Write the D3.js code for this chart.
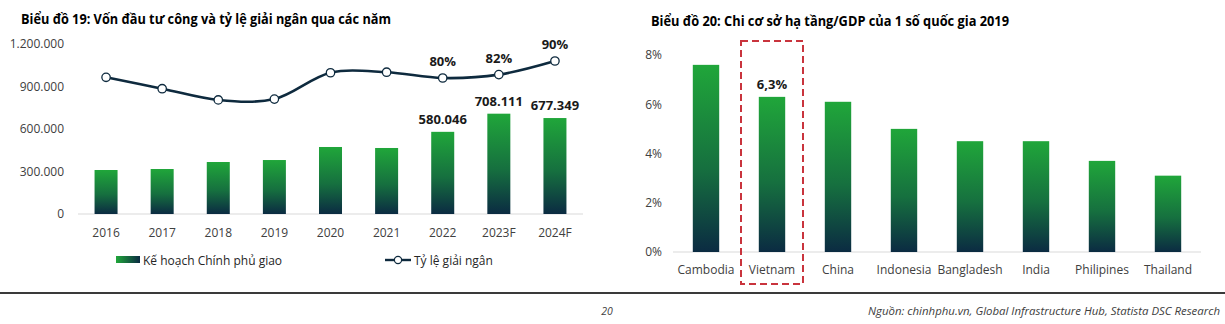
<!DOCTYPE html>
<html><head><meta charset="utf-8">
<script src="https://cdn.jsdelivr.net/npm/d3@7"></script>
<style>
html,body{margin:0;padding:0;background:#fff;}
svg{display:block;}
text{font-family:"Open Sans","Noto Sans",sans-serif;fill:#262626;}
</style></head><body>
<svg id="c" width="1225" height="324"></svg>
<script>
// ---- Chart 19 data ----
const years = ["2016","2017","2018","2019","2020","2021","2022","2023F","2024F"];
const planCapital = [310600, 317600, 367000, 381000, 473000, 466000, 580046, 708111, 677349];
const disburseRate = [80.4, 73.7, 67.1, 67.6, 83.1, 83.4, 80, 82, 90];
const capitalTicks = [0, 300000, 600000, 900000, 1200000];
const capitalLabeled = ["2022","2023F","2024F"];
const rateLabeled = ["2022","2023F","2024F"];
// ---- Chart 20 data ----
const countries = ["Cambodia","Vietnam","China","Indonesia","Bangladesh","India","Philipines","Thailand"];
const infraGdp = [7.6, 6.3, 6.1, 5.0, 4.5, 4.5, 3.7, 3.1];
const gdpTicks = [0, 2, 4, 6, 8];
const highlightCountry = "Vietnam";

const svg = d3.select("#c");
const defs = svg.append("defs");
const gv = defs.append("linearGradient").attr("id","gv").attr("x1",0).attr("y1",0).attr("x2",0).attr("y2",1);
gv.append("stop").attr("offset","0%").attr("stop-color","#20a63a");
gv.append("stop").attr("offset","55%").attr("stop-color","#16703f");
gv.append("stop").attr("offset","100%").attr("stop-color","#0b2b42");
const gh = defs.append("linearGradient").attr("id","gh").attr("x1",0).attr("y1",0).attr("x2",1).attr("y2",0);
gh.append("stop").attr("offset","0%").attr("stop-color","#20a63a");
gh.append("stop").attr("offset","100%").attr("stop-color","#0b2b42");

const fmtDot = v => d3.format(",")(v).replace(/,/g,".");

// Titles
svg.append("text").attr("x",21).attr("y",24).attr("font-weight","bold").attr("font-size",13.5)
  .attr("textLength",370).attr("lengthAdjust","spacingAndGlyphs")
  .text("Biểu đồ 19: Vốn đầu tư công và tỷ lệ giải ngân qua các năm").style("fill","#000");
svg.append("text").attr("x",651).attr("y",26).attr("font-weight","bold").attr("font-size",13.5)
  .attr("textLength",358).attr("lengthAdjust","spacingAndGlyphs")
  .text("Biểu đồ 20: Chi cơ sở hạ tầng/GDP của 1 số quốc gia 2019").style("fill","#000");

// ---- Chart 19 ----
const x1 = d3.scaleBand().domain(years).range([78,583]).paddingInner(0.59).paddingOuter(0.295);
const y1 = d3.scaleLinear().domain([0,1200000]).range([214,44]);
const y1r = d3.scaleLinear().domain([0,100]).range([214,44]);
const g1 = svg.append("g");
g1.append("line").attr("x1",78).attr("x2",583).attr("y1",y1(0)).attr("y2",y1(0)).attr("stroke","#d9d9d9");
const ax1 = d3.axisLeft(y1).tickValues(capitalTicks).tickFormat(fmtDot).tickSize(0).tickPadding(0);
g1.append("g").attr("transform","translate(64,0)").call(ax1).call(g=>g.select(".domain").remove())
  .selectAll("text").attr("font-size",12).style("fill","#404040").style("font-family","'Open Sans',sans-serif");
const axb1 = d3.axisBottom(x1).tickSize(0).tickPadding(0);
g1.append("g").attr("transform","translate(0,233)").call(axb1).call(g=>g.select(".domain").remove())
  .selectAll("text").attr("font-size",12).attr("dy","0.35em").style("fill","#404040").style("font-family","'Open Sans',sans-serif");
g1.selectAll("rect.bar").data(years).join("rect").attr("class","bar")
  .attr("x",d=>x1(d)).attr("width",x1.bandwidth())
  .attr("y",(d,i)=>y1(planCapital[i])).attr("height",(d,i)=>y1(0)-y1(planCapital[i]))
  .attr("fill","url(#gv)");
g1.selectAll("text.vl").data(years.filter(d=>capitalLabeled.includes(d))).join("text").attr("class","vl")
  .attr("x",d=>x1(d)+x1.bandwidth()/2).attr("y",d=>y1(planCapital[years.indexOf(d)])-8)
  .attr("text-anchor","middle").attr("font-size",13).attr("font-weight","bold").style("fill","#1a1a1a")
  .text(d=>fmtDot(planCapital[years.indexOf(d)]));
const pts = years.map((d,i)=>[x1(d)+x1.bandwidth()/2, y1r(disburseRate[i])]);
g1.append("path").attr("d",d3.line().curve(d3.curveCatmullRom.alpha(0.5))(pts))
  .attr("fill","none").attr("stroke","#0e2a3e").attr("stroke-width",2.6);
g1.selectAll("circle.m").data(pts).join("circle").attr("class","m")
  .attr("cx",d=>d[0]).attr("cy",d=>d[1]).attr("r",4.2)
  .attr("fill","#fff").attr("stroke","#0e2a3e").attr("stroke-width",1.3);
g1.selectAll("text.pl").data(years.filter(d=>rateLabeled.includes(d))).join("text").attr("class","pl")
  .attr("x",d=>x1(d)+x1.bandwidth()/2).attr("y",d=>y1r(disburseRate[years.indexOf(d)])-12)
  .attr("text-anchor","middle").attr("font-size",13).attr("font-weight","bold").style("fill","#1a1a1a")
  .text(d=>disburseRate[years.indexOf(d)]+"%");
// legend
g1.append("rect").attr("x",116).attr("y",256).attr("width",24).attr("height",7).attr("fill","url(#gh)");
g1.append("text").attr("x",143).attr("y",264.5).attr("font-size",12).style("fill","#262626").text("Kế hoạch Chính phủ giao");
g1.append("line").attr("x1",385).attr("x2",411).attr("y1",260).attr("y2",260).attr("stroke","#0e2a3e").attr("stroke-width",2.4);
g1.append("circle").attr("cx",398).attr("cy",260).attr("r",3.6).attr("fill","#fff").attr("stroke","#0e2a3e").attr("stroke-width",1.2);
g1.append("text").attr("x",414).attr("y",264.5).attr("font-size",12).style("fill","#262626").text("Tỷ lệ giải ngân");

// ---- Chart 20 ----
const x2 = d3.scaleBand().domain(countries).range([673,1201]).paddingInner(0.6).paddingOuter(0.3);
const y2 = d3.scaleLinear().domain([0,8]).range([252,55]);
const g2 = svg.append("g");
g2.append("line").attr("x1",673).attr("x2",1201).attr("y1",y2(0)).attr("y2",y2(0)).attr("stroke","#d9d9d9");
const ax2 = d3.axisLeft(y2).tickValues(gdpTicks).tickFormat(d=>d+"%").tickSize(0).tickPadding(0);
g2.append("g").attr("transform","translate(662,0)").call(ax2).call(g=>g.select(".domain").remove())
  .selectAll("text").attr("font-size",12).style("fill","#404040").style("font-family","'Open Sans',sans-serif");
const axb2 = d3.axisBottom(x2).tickSize(0).tickPadding(0);
g2.append("g").attr("transform","translate(0,269.5)").call(axb2).call(g=>g.select(".domain").remove())
  .selectAll("text").attr("font-size",12).attr("dy","0.35em").style("fill","#404040").style("font-family","'Open Sans',sans-serif");
g2.selectAll("rect.bar").data(countries).join("rect").attr("class","bar")
  .attr("x",d=>x2(d)).attr("width",x2.bandwidth())
  .attr("y",(d,i)=>y2(infraGdp[i])).attr("height",(d,i)=>y2(0)-y2(infraGdp[i]))
  .attr("fill","url(#gv)");
const hi = countries.indexOf(highlightCountry);
g2.append("text").attr("x",x2(highlightCountry)+x2.bandwidth()/2).attr("y",y2(infraGdp[hi])-8)
  .attr("text-anchor","middle").attr("font-size",13).attr("font-weight","bold").style("fill","#1a1a1a")
  .text(String(infraGdp[hi]).replace(".",",")+"%");
const cx = x2(highlightCountry)+x2.bandwidth()/2;
g2.append("rect").attr("x",cx-31).attr("y",41).attr("width",62).attr("height",243)
  .attr("fill","none").attr("stroke","#c9343d").attr("stroke-width",2).attr("stroke-dasharray","7,4");

// ---- Footer ----
svg.append("line").attr("x1",0).attr("x2",1225).attr("y1",293).attr("y2",293).attr("stroke","#3a3a3a").attr("stroke-width",2);
svg.append("text").attr("x",607).attr("y",315).attr("text-anchor","middle").attr("font-size",10.5).attr("font-style","italic").style("fill","#404040").text("20");
svg.append("text").attr("x",1220).attr("y",315).attr("text-anchor","end").attr("font-size",10.5).attr("font-style","italic")
  .attr("textLength",352).attr("lengthAdjust","spacingAndGlyphs").style("fill","#404040")
  .text("Nguồn: chinhphu.vn, Global Infrastructure Hub, Statista DSC Research");
</script></body></html>
